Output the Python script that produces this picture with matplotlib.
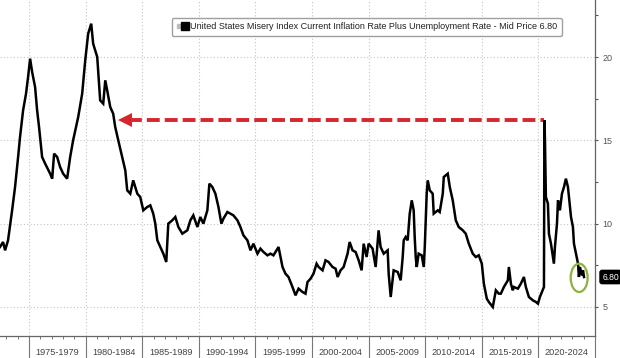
import matplotlib
matplotlib.use("Agg")
import matplotlib.pyplot as plt
import matplotlib.transforms as mtransforms
from matplotlib.patches import Ellipse
from matplotlib.lines import Line2D
from matplotlib.legend_handler import HandlerTuple
from matplotlib import font_manager

# ---------------- data ----------------
years = [1972.43, 1972.70, 1972.88, 1973.05, 1973.14, 1973.50, 1973.76, 1974.03, 1974.20, 1974.47,
         1974.73, 1974.91, 1975.09, 1975.27, 1975.53, 1975.71, 1975.88, 1976.15, 1976.42, 1976.86,
         1977.04, 1977.21, 1977.48, 1977.74, 1978.01, 1978.36, 1978.63, 1978.89, 1979.34, 1979.69,
         1979.96, 1980.22, 1980.49, 1980.66, 1981.02, 1981.28, 1981.55, 1981.73, 1981.90, 1982.17,
         1982.43, 1982.61, 1982.88, 1983.23, 1983.50, 1983.67, 1983.94, 1984.20, 1984.56, 1984.82,
         1985.09, 1985.44, 1985.71, 1985.97, 1986.15, 1986.33, 1986.59, 1986.86, 1987.12, 1987.30,
         1987.65, 1987.92, 1988.19, 1988.54, 1988.98, 1989.25, 1989.51, 1989.87, 1990.13, 1990.40,
         1990.75, 1990.93, 1991.19, 1991.46, 1991.73, 1991.99, 1992.17, 1992.52, 1992.79, 1993.05,
         1993.41, 1993.67, 1993.94, 1994.29, 1994.56, 1994.82, 1995.18, 1995.44, 1995.71, 1996.06,
         1996.33, 1996.59, 1997.04, 1997.39, 1997.65, 1997.92, 1998.27, 1998.54, 1998.81, 1999.16,
         1999.42, 1999.60, 1999.87, 2000.13, 2000.40, 2000.58, 2000.93, 2001.19, 2001.46, 2001.81,
         2002.08, 2002.26, 2002.52, 2002.79, 2003.14, 2003.32, 2003.58, 2003.85, 2004.12, 2004.38,
         2004.56, 2004.82, 2005.00, 2005.35, 2005.62, 2005.88, 2006.06, 2006.33, 2006.68, 2006.77,
         2006.95, 2007.21, 2007.57, 2007.83, 2008.01, 2008.10, 2008.27, 2008.45, 2008.63, 2008.81,
         2008.98, 2009.07, 2009.16, 2009.25, 2009.42, 2009.69, 2009.87, 2009.96, 2010.13, 2010.22,
         2010.40, 2010.66, 2010.75, 2011.11, 2011.28, 2011.55, 2011.64, 2011.99, 2012.17, 2012.43,
         2012.70, 2012.96, 2013.32, 2013.58, 2013.85, 2014.20, 2014.47, 2014.73, 2015.00, 2015.18,
         2015.44, 2015.62, 2015.97, 2016.24, 2016.50, 2016.68, 2016.95, 2017.12, 2017.30, 2017.39,
         2017.57, 2017.74, 2017.83, 2018.19, 2018.45, 2018.72, 2018.89, 2019.16, 2019.51, 2019.78,
         2019.96, 2020.13, 2020.31, 2020.49, 2020.53, 2020.58, 2020.66, 2020.84, 2020.93, 2021.11,
         2021.28, 2021.37, 2021.46, 2021.64, 2021.73, 2021.90, 2022.08, 2022.26, 2022.43, 2022.61,
         2022.70, 2022.88, 2023.05, 2023.14, 2023.32, 2023.50, 2023.58, 2023.67, 2023.85, 2023.94,
         2024.03]

misery = [8.6, 8.9, 8.4, 8.8, 9.0, 10.8, 12.2, 14.0, 15.2, 16.8,
          17.8, 18.8, 19.9, 19.1, 18.2, 16.8, 15.8, 14.0, 13.6, 13.0,
          12.7, 14.2, 14.0, 13.4, 13.0, 12.7, 14.0, 15.0, 16.4, 17.8,
          19.8, 21.4, 22.0, 20.8, 20.0, 17.4, 17.2, 18.6, 18.0, 17.0,
          16.6, 15.8, 15.0, 14.0, 13.2, 12.0, 11.8, 12.6, 11.8, 11.6,
          10.8, 11.0, 11.1, 10.6, 10.0, 9.0, 8.6, 8.2, 7.7, 10.0,
          10.2, 10.4, 9.8, 9.4, 9.6, 10.2, 10.5, 9.8, 10.4, 10.0,
          10.8, 12.4, 12.2, 11.8, 11.0, 10.0, 10.3, 10.7, 10.6, 10.5,
          10.2, 9.8, 9.3, 9.0, 8.4, 8.8, 8.2, 8.5, 8.3, 8.1,
          8.2, 8.1, 8.6, 7.4, 7.0, 6.8, 6.2, 5.7, 6.1, 5.9,
          5.8, 6.5, 6.7, 7.0, 7.6, 7.4, 7.2, 7.8, 7.7, 7.4,
          7.3, 6.8, 7.2, 7.4, 8.2, 8.9, 8.4, 8.3, 7.8, 7.2,
          8.8, 8.0, 8.8, 8.5, 7.4, 9.6, 8.6, 8.2, 8.4, 7.0,
          5.6, 7.2, 7.1, 6.6, 8.0, 9.0, 9.2, 9.0, 10.6, 11.4,
          10.8, 9.2, 8.0, 7.4, 8.2, 8.1, 7.4, 8.6, 11.8, 12.6,
          12.0, 11.8, 10.6, 10.8, 10.7, 11.8, 12.8, 13.0, 12.2, 11.4,
          10.2, 9.8, 9.6, 9.4, 8.8, 8.2, 8.0, 8.1, 7.6, 6.4,
          5.5, 5.3, 5.0, 6.0, 5.8, 5.8, 6.2, 6.4, 6.6, 7.4,
          6.4, 6.0, 6.2, 6.1, 6.4, 6.8, 6.2, 5.6, 5.4, 5.3,
          5.2, 5.6, 5.9, 6.2, 16.2, 15.0, 11.6, 11.2, 9.4, 8.8,
          8.0, 7.6, 8.6, 10.0, 11.4, 10.8, 11.8, 12.2, 12.7, 12.2,
          11.6, 10.4, 9.8, 8.8, 8.2, 7.6, 6.8, 7.4, 6.9, 7.2,
          6.80]

period_labels = ["1975-1979", "1980-1984", "1985-1989", "1990-1994", "1995-1999",
                 "2000-2004", "2005-2009", "2010-2014", "2015-2019", "2020-2024"]
period_starts = [1975, 1980, 1985, 1990, 1995, 2000, 2005, 2010, 2015, 2020]
y_ticks = [5, 10, 15, 20]
series_name = "United States Misery Index Current Inflation Rate Plus Unemployment Rate - Mid Price"
last_value = misery[-1]
arrow_tip_year = 1982.9
circle_center = (2023.6, 6.75)

# ---------------- fonts ----------------
names = {f.name for f in font_manager.fontManager.ttflist}
narrow = "Liberation Sans Narrow" if "Liberation Sans Narrow" in names else "Liberation Sans"

# ---------------- figure ----------------
fig = plt.figure(figsize=(6.2, 3.58), dpi=100)
fig.patch.set_facecolor("white")
ax = fig.add_axes([0, 22 / 358, 595 / 620, 336 / 358])
ax.set_xlim(1972.43, 2025.0)
ax.set_ylim(3.26, 23.42)

ax.plot(years, misery, color="black", lw=1.8, solid_joinstyle="miter", zorder=4)

# spines
for s in ("top", "left"):
    ax.spines[s].set_visible(False)
for s in ("bottom", "right"):
    ax.spines[s].set_color("#666666")
    ax.spines[s].set_linewidth(0.9)

# y axis on right
ax.yaxis.tick_right()
ax.set_yticks(y_ticks)
ax.set_yticks([7.5, 12.5, 17.5, 22.5], minor=True)
ax.tick_params(axis="y", which="both", direction="out", length=2.5, width=0.8,
               color="#555555", labelsize=6.5, labelcolor="#555555", pad=3)
for t in ax.get_yticklabels():
    t.set_fontfamily("Liberation Sans")

# x axis separators and yearly ticks
ax.set_xticks(period_starts + [2025])
ax.set_xticks(list(range(1973, 2025)), minor=True)
ax.tick_params(axis="x", which="major", direction="out", length=16, width=0.8,
               color="#777777", labelbottom=False)
ax.tick_params(axis="x", which="minor", direction="out", length=2.2, width=0.7,
               color="#777777")

# grid
ax.grid(True, which="major", color="#c4c4c4", linestyle=(0, (1, 2)), lw=0.8)
ax.set_axisbelow(True)

# period labels
trans = mtransforms.blended_transform_factory(ax.transData, ax.transAxes)
for lab, st in zip(period_labels, period_starts):
    ax.text(st + 2.5, -0.05, lab, transform=trans, ha="center", va="center",
            fontsize=6.6, color="#444444", family=narrow)

# red dashed arrow
red = "#d7262d"
level = max(misery[years.index(2020.53):])
spike_year = years[misery.index(level)]
ax.plot([arrow_tip_year + 0.9, spike_year], [level, level], color=red, lw=2.8,
        dashes=(3.3, 1.3), solid_capstyle="butt", zorder=3)
ax.plot([arrow_tip_year + 0.55], [level], marker="<", ms=9.5, color=red,
        markeredgewidth=0, zorder=3)

# green circle
ax.add_patch(Ellipse(circle_center, width=1.5, height=1.7, fill=False,
                     edgecolor="#8db33c", lw=1.6, zorder=5))

# last value tag
trans_y = mtransforms.blended_transform_factory(ax.transAxes, ax.transData)
ax.text(1.012, last_value, f"{last_value:.2f}", transform=trans_y, ha="left", va="center",
        color="white", fontsize=6.2, family="Liberation Sans",
        bbox=dict(boxstyle="round,pad=0.25", fc="black", ec="black"), clip_on=False)

# legend
gray_sq = Line2D([], [], marker="s", ls="none", color="#bbbbbb", ms=2.5)
black_sq = Line2D([], [], marker="s", ls="none", color="black", ms=6)
leg = ax.legend([(gray_sq, black_sq)], [f"{series_name} {last_value:.2f}"],
                handler_map={tuple: HandlerTuple(ndivide=None, pad=0.1)},
                loc="upper right", bbox_to_anchor=(562 / 620, 1 - 18 / 358),
                bbox_transform=fig.transFigure, borderaxespad=0,
                prop={"family": narrow, "size": 6.45}, frameon=True, fancybox=True,
                handlelength=1.3, handletextpad=0.3, borderpad=0.5)
leg.get_frame().set_edgecolor("#888888")
leg.get_frame().set_linewidth(1.0)
for t in leg.get_texts():
    t.set_color("#222222")

fig.savefig("out.png", dpi=100, facecolor="white")
